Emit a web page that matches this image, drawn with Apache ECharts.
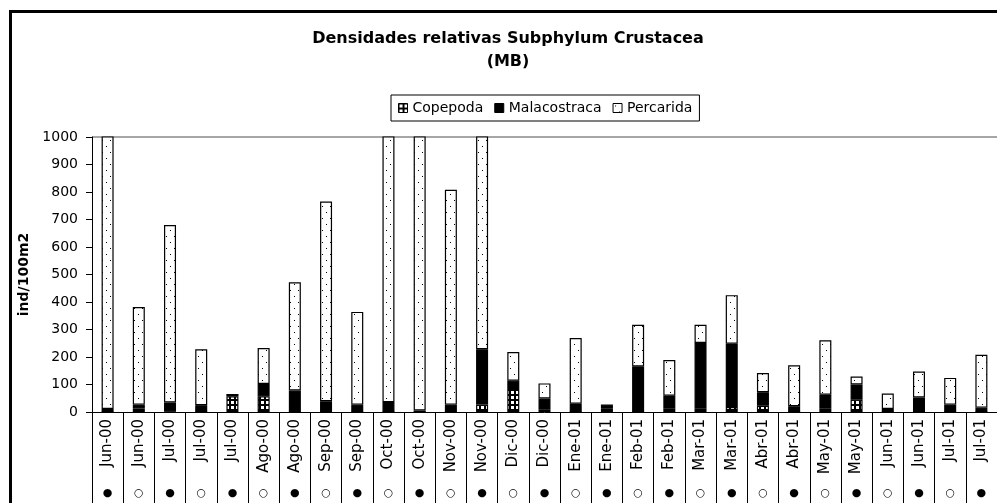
<!DOCTYPE html>
<html lang="es">
<head>
    <meta charset="UTF-8">
    <title>Densidades relativas Subphylum Crustacea (MB)</title>
    <script src="https://cdn.jsdelivr.net/npm/echarts@6.0.0/dist/echarts.min.js"></script>
    <style>
        body {
            margin: 0;
            padding: 0;
            background: #fff;
        }

        #chartContainer {
            width: 997px;
            height: 503px;
        }
    </style>
</head>
<body>
    <div id="chartContainer"></div>
    <script>
        // muestreos (mes-año), uno por barra
        var categories = ['Jun-00', 'Jun-00', 'Jul-00', 'Jul-00', 'Jul-00', 'Ago-00', 'Ago-00', 'Sep-00', 'Sep-00',
            'Oct-00', 'Oct-00', 'Nov-00', 'Nov-00', 'Dic-00', 'Dic-00', 'Ene-01', 'Ene-01', 'Feb-01', 'Feb-01',
            'Mar-01', 'Mar-01', 'Abr-01', 'Abr-01', 'May-01', 'May-01', 'Jun-01', 'Jun-01', 'Jul-01', 'Jul-01'];
        // marca bajo cada muestreo
        var markers = ['●', '○', '●', '○', '●', '○', '●', '○', '●', '○', '●', '○', '●', '○', '●',
            '○', '●', '○', '●', '○', '●', '○', '●', '○', '●', '○', '●', '○', '●'];

        var copepoda = [0, 13, 2, 0, 57, 57, 0, 0, 0, 0, 0, 0, 27, 84, 8,
            0, 12, 0, 12, 12, 18, 23, 0, 12, 45, 0, 0, 0, 0];
        var malacostraca = [11, 14, 33, 25, 6, 45, 78, 39, 27, 36, 6, 27, 201, 30, 41,
            30, 13, 166, 47, 239, 230, 49, 21, 51, 55, 11, 53, 27, 16];
        var percarida = [1400, 355, 645, 203, 0, 131, 394, 726, 337, 1250, 1600, 781, 1100, 104, 55,
            239, 0, 151, 130, 66, 177, 70, 149, 198, 29, 56, 94, 97, 192];

        var yTicks = [0, 100, 200, 300, 400, 500, 600, 700, 800, 900, 1000];

        // tramas tipo Excel
        function gridPattern() {
            var c = document.createElement('canvas');
            c.width = 5;
            c.height = 5;
            var ctx = c.getContext('2d');
            ctx.fillStyle = '#000';
            ctx.fillRect(0, 0, 5, 5);
            ctx.fillStyle = '#fff';
            ctx.fillRect(1, 1, 3, 3);
            return { image: c, repeat: 'repeat' };
        }

        function dotPattern() {
            var c = document.createElement('canvas');
            c.width = 8;
            c.height = 12;
            var ctx = c.getContext('2d');
            ctx.fillStyle = '#fff';
            ctx.fillRect(0, 0, 8, 12);
            ctx.fillStyle = '#000';
            ctx.fillRect(2, 2, 1, 1);
            ctx.fillRect(6, 8, 1, 1);
            return { image: c, repeat: 'repeat' };
        }

        var font = 'DejaVu Sans';
        var splitColors = yTicks.map(function (v, i) {
            return i === yTicks.length - 1 ? '#a6a6a6' : 'rgba(0,0,0,0)';
        });

        function barSeries(name, data, color) {
            return {
                name: name,
                type: 'bar',
                stack: 'total',
                data: data,
                barWidth: 12,
                itemStyle: {
                    color: color,
                    borderColor: '#000',
                    borderWidth: 1.2
                },
                emphasis: { disabled: true }
            };
        }

        var myChart = echarts.init(document.getElementById('chartContainer'));

        myChart.setOption({
            animation: false,
            backgroundColor: '#fff',
            textStyle: { fontFamily: font, color: '#000' },
            title: {
                text: 'Densidades relativas Subphylum Crustacea\n(MB)',
                left: 503,
                textAlign: 'center',
                top: 22,
                textStyle: {
                    fontFamily: font,
                    fontSize: 16,
                    fontWeight: 'bold',
                    color: '#000',
                    lineHeight: 23
                }
            },
            legend: {
                left: 391,
                top: 95,
                padding: [6, 7],
                itemGap: 11,
                itemWidth: 9,
                itemHeight: 9,
                icon: 'rect',
                itemStyle: { borderColor: '#000', borderWidth: 1 },
                borderColor: '#000',
                borderWidth: 1,
                textStyle: { fontFamily: font, fontSize: 14, color: '#000' },
                data: ['Copepoda', 'Malacostraca', 'Percarida']
            },
            graphic: [{
                type: 'rect',
                shape: { x: 10.5, y: 11.5, width: 1100, height: 600 },
                style: { fill: 'none', stroke: '#000', lineWidth: 3 },
                silent: true
            }],
            grid: {
                left: 92,
                right: 0,
                top: 137,
                bottom: 91
            },
            xAxis: [{
                type: 'category',
                data: categories,
                axisLine: { show: true, onZero: false, lineStyle: { color: '#000', width: 1 } },
                axisTick: { show: true, interval: 0, length: 91, lineStyle: { color: '#000', width: 1 } },
                axisLabel: {
                    interval: 0,
                    rotate: 90,
                    margin: 7,
                    fontFamily: font,
                    fontSize: 15,
                    color: '#000'
                }
            }, {
                type: 'category',
                position: 'bottom',
                data: markers,
                axisLine: { show: false, onZero: false },
                axisTick: { show: false },
                axisLabel: {
                    interval: 0,
                    margin: 76,
                    fontFamily: font,
                    fontSize: 11,
                    color: '#000'
                }
            }],
            yAxis: {
                type: 'value',
                min: 0,
                max: 1000,
                interval: 100,
                name: 'ind/100m2',
                nameLocation: 'middle',
                nameGap: 58,
                nameTextStyle: { fontFamily: font, fontSize: 14, fontWeight: 'bold', color: '#000' },
                axisLine: { show: true, lineStyle: { color: '#000', width: 1 } },
                axisTick: { show: true, length: 6, lineStyle: { color: '#000' } },
                axisLabel: {
                    margin: 14,
                    fontFamily: font,
                    fontSize: 14,
                    color: '#000',
                    formatter: function (v) { return String(v); }
                },
                splitLine: { show: true, lineStyle: { color: splitColors, width: 2 } }
            },
            series: [
                barSeries('Copepoda', copepoda, gridPattern()),
                barSeries('Malacostraca', malacostraca, '#000'),
                barSeries('Percarida', percarida, dotPattern())
            ]
        });
    </script>
</body>
</html>
